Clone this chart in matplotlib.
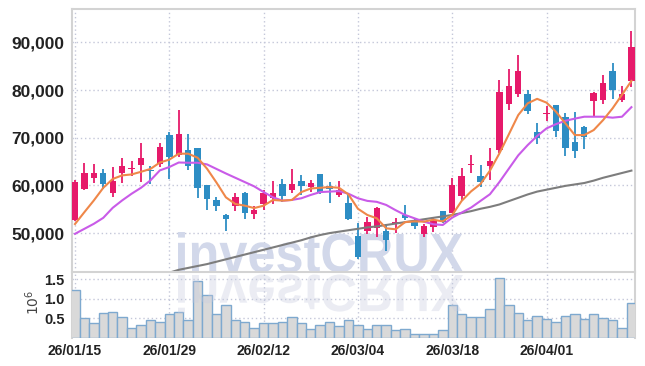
import numpy as np
import matplotlib
matplotlib.use("Agg")
import matplotlib.pyplot as plt
from matplotlib.textpath import TextPath
from matplotlib.font_manager import FontProperties
from matplotlib.patches import PathPatch
from matplotlib.transforms import Affine2D

# daily OHLC (KRW), one entry per trading day from 26/01/15
opens = [52800, 59250, 61550, 62500, 58400, 62600, 63450, 64250, 63150, 64550,
         70550, 66350, 67350, 67750, 60000, 57000, 53850, 55700, 58350, 53900,
         56050, 57300, 60200, 59000, 60850, 59650, 62350, 59800, 57950, 56250,
         49400, 50450, 51000, 50450, 51950, 53800, 52400, 49750, 51300, 54600,
         54300, 57800, 64350, 62000, 64000, 67450, 77150, 79250, 79200, 71100,
         75000, 76850, 74300, 69100, 72250, 77650, 77800, 84050, 77850, 81950]
highs = [61050, 64600, 64400, 63500, 63900, 65800, 65050, 68900, 64000, 68950,
         71100, 75750, 70700, 67800, 60000, 57500, 53900, 58350, 58650, 55750,
         59100, 60900, 61300, 63350, 62200, 61200, 62350, 60650, 60850, 58250,
         52200, 53450, 55400, 51850, 53250, 55900, 53250, 51850, 53250, 54600,
         61550, 63550, 66350, 64250, 67800, 82000, 84500, 87400, 79950, 73000,
         76650, 76850, 75250, 75400, 72450, 79600, 83050, 85600, 80850, 92400]
lows = [52500, 58950, 60550, 59300, 57550, 60500, 62050, 60650, 60350, 63850,
        61400, 65950, 63300, 57350, 54750, 54700, 50450, 54700, 52900, 53050,
        54800, 56150, 56600, 58500, 57950, 58650, 58250, 56400, 57500, 52800,
        44650, 49850, 49150, 46350, 50100, 52700, 50850, 49250, 50200, 52050,
        54300, 57000, 62550, 59700, 61200, 66700, 75800, 78550, 74900, 68600,
        73500, 70150, 66250, 65700, 67600, 74400, 77000, 78050, 77500, 80600]
closes = [60650, 62500, 62500, 60300, 60850, 64000, 63550, 65650, 63050, 67950,
          65950, 70700, 64050, 59450, 57150, 55750, 52850, 57650, 54250, 54900,
          58350, 58500, 57750, 60300, 59950, 60500, 58350, 59200, 58950, 52850,
          45000, 52350, 55350, 48600, 52250, 53100, 51550, 51550, 52450, 52400,
          60150, 62050, 64500, 60650, 65200, 79600, 80850, 84050, 75700, 70000,
          75100, 71450, 67900, 67250, 70200, 79400, 81500, 80100, 79200, 89000]

# moving averages as drawn (orange 5, purple 20, grey 60)
ma5 = [51900, 54400, 56850, 59500, 61350, 62100, 62300, 62850, 63450, 64800,
       65400, 66650, 66650, 65800, 63500, 60600, 57500, 56100, 55750, 55250,
       55750, 56950, 56800, 56950, 58600, 59350, 59500, 59650, 59500, 58100,
       55100, 53800, 53100, 51000, 50800, 52300, 52450, 52400, 52800, 52450,
       53800, 56750, 58750, 60300, 63100, 66700, 70700, 74750, 77200, 78150,
       77350, 75450, 73000, 70550, 70550, 71600, 73700, 76150, 79000, 81900]
ma20 = [49850, 50900, 51950, 53200, 55300, 56850, 58250, 59500, 61050, 63150,
        63850, 64800, 64750, 64750, 64400, 63450, 62500, 61600, 60700, 59800,
        58600, 57500, 56800, 56950, 57300, 58000, 58600, 58700, 58800, 58250,
        57300, 56750, 56550, 55900, 54800, 53800, 53100, 52400, 51850, 51700,
        53250, 54300, 55350, 56750, 58150, 60700, 63500, 66300, 68450, 70350,
        71950, 72850, 73550, 74000, 74400, 74400, 74400, 74200, 74400, 76400]
ma60 = [np.nan] * 10 + [
        41700, 42300, 42700, 43100, 43500, 44000, 44500, 45000, 45500, 46000,
        46500, 47000, 47500, 48000, 48500, 49100, 49600, 50000, 50300, 50600,
        50900, 51200, 51400, 51700, 52000, 52300, 52600, 52900, 53200, 53500,
        53800, 54200, 54600, 55100, 55500, 56000, 56700, 57400, 58100, 58700,
        59100, 59500, 59900, 60200, 60500, 61000, 61600, 62100, 62600, 63100]

# volume, millions of shares
volume = [1.21, 0.49, 0.36, 0.62, 0.65, 0.53, 0.24, 0.31, 0.44, 0.39,
          0.59, 0.65, 0.44, 1.44, 1.08, 0.59, 0.83, 0.44, 0.39, 0.24,
          0.36, 0.36, 0.39, 0.52, 0.36, 0.21, 0.31, 0.39, 0.29, 0.44,
          0.33, 0.21, 0.31, 0.31, 0.18, 0.21, 0.10, 0.08, 0.10, 0.18,
          0.83, 0.59, 0.52, 0.52, 0.72, 1.52, 0.83, 0.62, 0.44, 0.54,
          0.47, 0.41, 0.54, 0.59, 0.47, 0.59, 0.49, 0.44, 0.24, 0.88]

tick_labels = ['26/01/15', '26/01/29', '26/02/12', '26/03/04', '26/03/18', '26/04/01']
price_ticks = [50000, 60000, 70000, 80000, 90000]
vol_ticks = [0.5, 1.0, 1.5]

UP, DOWN = '#E61A6A', '#2D8DC4'
GRID = '#C4C7D9'
SPINE = '#D3D3D3'
TXT = '#222222'
FONT = ['Liberation Sans', 'DejaVu Sans']

W, H = 645, 366
fig = plt.figure(figsize=(W / 100, H / 100), dpi=100)
ax = fig.add_axes([71.5 / W, 1 - 272.3 / H, 563.5 / W, 263 / H])
axv = fig.add_axes([71.5 / W, 1 - 337.5 / H, 563.5 / W, 65.2 / H], sharex=ax)

o, h, l, c = map(np.asarray, (opens, highs, lows, closes))
x = np.arange(len(o))
cols = np.where(c >= o, UP, DOWN)
body = np.abs(c - o)
bottom = np.where(body < 250, (o + c) / 2 - 125, np.minimum(o, c))
ax.vlines(x, l, h, colors=cols, lw=1.3, zorder=3)
ax.bar(x, np.maximum(body, 250), bottom=bottom, width=0.68, color=cols, lw=0, zorder=4)

ax.plot(x, ma60, color='#7d7d7d', lw=1.5, zorder=5)
ax.plot(x, ma20, color='#C95BE8', lw=1.5, zorder=5)
ax.plot(x, ma5, color='#EF8749', lw=1.5, zorder=6)

axv.bar(x, volume, width=1.0, color='#D9D9D9', edgecolor='#7EA9CF', lw=1.0, zorder=3)

ax.set_xlim(-0.37, 59.38)
ax.set_ylim(41780, 96920)
axv.set_ylim(0, 1.672)

for a in (ax, axv):
    a.grid(True, color=GRID, linestyle=(0, (1, 2)), lw=1.0)
    a.set_axisbelow(True)
    a.tick_params(length=0)
    for s in ('left', 'top', 'right'):
        a.spines[s].set_color(SPINE)
        a.spines[s].set_linewidth(1.5)
    a.spines['bottom'].set_visible(False)

ax.set_xticks(range(0, len(x), 10))
ax.tick_params(axis='x', labelbottom=False)
ax.set_yticks(price_ticks)
ax.set_yticklabels([f'{v:,}' for v in price_ticks], fontsize=12.5, color=TXT,
                   family=FONT, fontweight='bold')
ax.tick_params(axis='y', pad=5)

axv.set_yticks(vol_ticks)
axv.set_yticklabels([f'{v:.1f}' for v in vol_ticks], fontsize=10.5, color=TXT,
                    family=FONT, fontweight='bold')
axv.set_xticks(range(0, len(x), 10))
axv.set_xticklabels(tick_labels, fontsize=10, color=TXT, family=FONT, fontweight='bold')
axv.tick_params(axis='y', pad=5)
axv.tick_params(axis='x', pad=5)
fig.text(33 / W, 1 - 302 / H, r'$10^6$', rotation=90, ha='center', va='center',
         fontsize=10, color='#444444')

# watermark + reflection
tp = TextPath((0, 0), 'investCRUX', size=1,
              prop=FontProperties(family='Liberation Sans', weight='bold'))
bb = tp.get_extents()
sx = (463 - 178) / bb.width
sy = (272 - 232) / bb.y1
tr = Affine2D().translate(-bb.x0, 0).scale(sx / W, sy / H).translate(178 / W, (H - 272) / H)
wm = PathPatch(tr.transform_path(tp), facecolor='#D2D8EA', lw=0,
               transform=fig.transFigure, zorder=1)
ax.add_patch(wm)
tr2 = Affine2D().translate(-bb.x0, 0).scale(sx / W, -0.95 * sy / H).translate(178 / W, (H - 275) / H)
refl = PathPatch(tr2.transform_path(tp), facecolor='#C6CBDF', alpha=0.35, lw=0,
                 transform=fig.transFigure, zorder=5)
fig.add_artist(refl)

fig.savefig('out.png', dpi=100)
